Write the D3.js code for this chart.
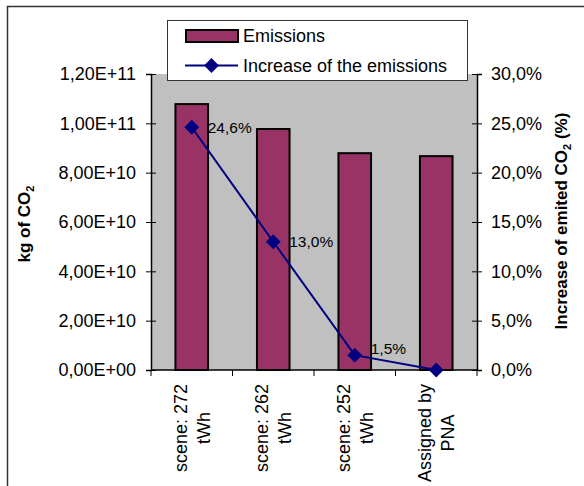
<!DOCTYPE html>
<html>
<head>
<meta charset="utf-8">
<script src="https://cdn.jsdelivr.net/npm/d3@7"></script>
<style>
  body { margin: 0; background: #fff; }
  svg text { font-family: "Liberation Sans", Arial, sans-serif; fill: #000; }
</style>
</head>
<body>
<svg id="chart" width="584" height="486"></svg>
<script>
// data
const categories = [["scene: 272", "tWh"], ["scene: 262", "tWh"], ["scene: 252", "tWh"], ["Assigned by", "PNA"]];
const emissions = [1.078e11, 9.77e10, 8.79e10, 8.67e10];
const increase = [24.6, 13.0, 1.5, 0.0];
const increaseLabels = ["24,6%", "13,0%", "1,5%", null];
const leftTicks = [0, 2e10, 4e10, 6e10, 8e10, 1e11, 1.2e11];
const rightTicks = [0, 5, 10, 15, 20, 25, 30];

const svg = d3.select("#chart");
const plot = { left: 151, right: 477, top: 74, bottom: 370 };

// outer frame
svg.append("rect")
    .attr("x", 7.5).attr("y", 6.5)
    .attr("width", 600).attr("height", 600)
    .attr("fill", "none").attr("stroke", "#333").attr("stroke-width", 1.5);

const x = d3.scaleBand()
    .domain(d3.range(categories.length))
    .range([plot.left, plot.right])
    .paddingInner(0).paddingOuter(0);

const yLeft = d3.scaleLinear().domain([0, 1.2e11]).range([plot.bottom, plot.top]);
const yRight = d3.scaleLinear().domain([0, 30]).range([plot.bottom, plot.top]);

// plot area
svg.append("rect")
    .attr("x", plot.left).attr("y", plot.top)
    .attr("width", plot.right - plot.left).attr("height", plot.bottom - plot.top)
    .attr("fill", "#c0c0c0");

// excel style number formats
function sci(v) {
    if (v === 0) return "0,00E+00";
    let e = Math.floor(Math.log10(v));
    let m = v / Math.pow(10, e);
    return m.toFixed(2).replace(".", ",") + "E+" + String(e).padStart(2, "0");
}
const pct = v => v.toFixed(1).replace(".", ",") + "%";

// bars
const barW = x.bandwidth() / 2.5;
svg.append("g").selectAll("rect")
    .data(emissions)
    .enter().append("rect")
    .attr("x", (d, i) => x(i) + (x.bandwidth() - barW) / 2)
    .attr("y", d => yLeft(d))
    .attr("width", barW)
    .attr("height", d => plot.bottom - yLeft(d))
    .attr("fill", "#993366")
    .attr("stroke", "#000").attr("stroke-width", 2);

// left axis
const gl = svg.append("g")
    .attr("transform", `translate(${plot.left},0)`)
    .call(d3.axisLeft(yLeft).tickValues(leftTicks).tickFormat(sci).tickSize(5).tickPadding(10));
gl.selectAll(".tick line").attr("x2", -5).clone().attr("x2", 5);

// right axis
const gr = svg.append("g")
    .attr("transform", `translate(${plot.right},0)`)
    .call(d3.axisRight(yRight).tickValues(rightTicks).tickFormat(pct).tickSize(5).tickPadding(9));
gr.selectAll(".tick line").clone().attr("x2", -5);

// bottom axis
svg.append("line")
    .attr("x1", plot.left).attr("x2", plot.right)
    .attr("y1", plot.bottom).attr("y2", plot.bottom)
    .attr("stroke", "#000").attr("stroke-width", 1.5);
svg.append("g").selectAll("line")
    .data(d3.range(categories.length + 1))
    .enter().append("line")
    .attr("x1", i => i < categories.length ? x(i) : plot.right)
    .attr("x2", i => i < categories.length ? x(i) : plot.right)
    .attr("y1", plot.bottom).attr("y2", plot.bottom + 6)
    .attr("stroke", "#000");

[gl, gr].forEach(g => {
    g.select(".domain").attr("stroke", "#000").attr("stroke-width", 1.5);
    g.selectAll(".tick line").attr("stroke", "#000");
    g.selectAll(".tick text").attr("font-size", 18).attr("font-family", "Liberation Sans, Arial, sans-serif");
});

// category labels (rotated, two lines centered on each other)
const catG = svg.append("g").selectAll("g")
    .data(categories)
    .enter().append("g");
catG.each(function (lines, i) {
    const g = d3.select(this);
    const cx = x(i) + x.bandwidth() / 2;
    const t = g.append("text")
        .attr("font-size", 18)
        .attr("text-anchor", "middle");
    lines.forEach((s, k) => t.append("tspan").text(s));
    let maxLen = 0;
    t.selectAll("tspan").each(function () { maxLen = Math.max(maxLen, this.getComputedTextLength()); });
    const center = 384 + maxLen / 2;
    t.attr("transform", `translate(${cx},${center}) rotate(-90)`);
    t.selectAll("tspan")
        .attr("x", 0)
        .attr("y", (d, k) => (k - (lines.length - 1) / 2) * 23)
        .attr("dy", "0.35em");
});

// line series
const px = i => x(i) + x.bandwidth() / 2;
svg.append("path")
    .datum(increase)
    .attr("d", d3.line().x((d, i) => px(i)).y(d => yRight(d)))
    .attr("fill", "none").attr("stroke", "#000080").attr("stroke-width", 2);

const diamond = d3.symbol().type(d3.symbolSquare).size(110);
svg.append("g").selectAll("path")
    .data(increase)
    .enter().append("path")
    .attr("d", diamond)
    .attr("transform", (d, i) => `translate(${px(i)},${yRight(d)}) rotate(45)`)
    .attr("fill", "#000080");

// data labels; the one close to the category axis is nudged up like excel does
svg.append("g").selectAll("text")
    .data(increase)
    .enter().filter((d, i) => increaseLabels[i])
    .append("text")
    .attr("x", (d, i) => px(i) + 16)
    .attr("y", d => Math.min(yRight(d), plot.bottom - 21))
    .attr("dy", "0.35em")
    .attr("font-size", 15.5)
    .text((d, i) => increaseLabels[i]);

// axis titles
const lt = svg.append("text")
    .attr("transform", "translate(30,224) rotate(-90)")
    .attr("text-anchor", "middle")
    .attr("font-size", 17)
    .attr("font-weight", "bold");
lt.append("tspan").text("kg of CO");
lt.append("tspan").text("2").attr("font-size", 11).attr("dy", 4);

const rt = svg.append("text")
    .attr("transform", "translate(567,221) rotate(-90)")
    .attr("text-anchor", "middle")
    .attr("font-size", 17)
    .attr("font-weight", "bold");
rt.append("tspan").text("Increase of emited CO");
rt.append("tspan").text("2").attr("font-size", 11).attr("dy", 4);
rt.append("tspan").text(" (%)").attr("dy", -4);

// legend
const lg = svg.append("g");
lg.append("rect")
    .attr("x", 167.5).attr("y", 20.5).attr("width", 300).attr("height", 60)
    .attr("fill", "#fff").attr("stroke", "#333").attr("stroke-width", 1);
lg.append("rect")
    .attr("x", 186).attr("y", 30).attr("width", 52).attr("height", 12)
    .attr("fill", "#993366").attr("stroke", "#000").attr("stroke-width", 2);
lg.append("text").attr("x", 243).attr("y", 36).attr("dy", "0.35em")
    .attr("font-size", 18).text("Emissions");
lg.append("line")
    .attr("x1", 185).attr("x2", 238).attr("y1", 65.5).attr("y2", 65.5)
    .attr("stroke", "#000080").attr("stroke-width", 2);
lg.append("path").attr("d", diamond)
    .attr("transform", "translate(211.5,65.5) rotate(45)")
    .attr("fill", "#000080");
lg.append("text").attr("x", 243).attr("y", 66).attr("dy", "0.35em")
    .attr("font-size", 18).text("Increase of the emissions");
</script>
</body>
</html>
